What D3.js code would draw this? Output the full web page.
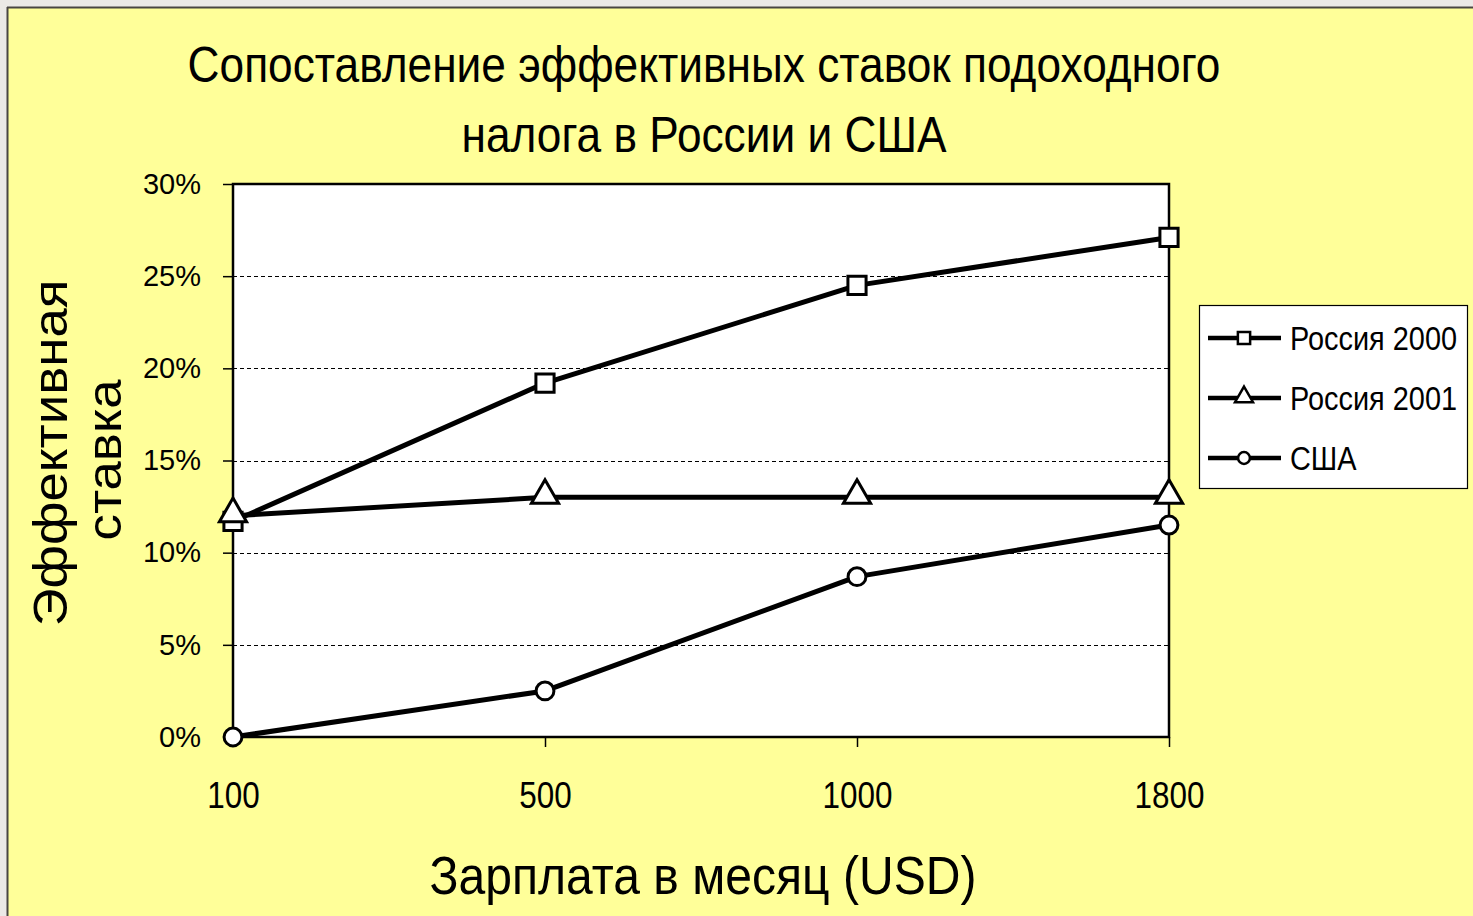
<!DOCTYPE html>
<html>
<head>
<meta charset="utf-8">
<script src="https://cdn.jsdelivr.net/npm/d3@7"></script>
<style>
  html, body { margin: 0; padding: 0; background: #ece9e6; }
  svg { display: block; }
</style>
</head>
<body>
<div id="chart"></div>
<script>
// Chart data
const categories = ["100", "500", "1000", "1800"];
const russia2000 = [11.7, 19.2, 24.5, 27.1];
const russia2001 = [12.0, 13.0, 13.0, 13.0];
const usa = [0.0, 2.5, 8.7, 11.5];
const yTicks = [0, 5, 10, 15, 20, 25, 30];
const seriesNames = ["Россия 2000", "Россия 2001", "США"];

const width = 1473;
const height = 916;

// plot area
const plotLeft = 233;
const plotRight = 1169;
const plotTop = 184;
const plotBottom = 737;

const font = "'Liberation Sans', Arial, sans-serif";

// no narrow font installed, so squeeze the regular one horizontally
function squeeze(sel, factor) {
    sel.each(function () {
        const len = this.getComputedTextLength();
        d3.select(this)
            .attr("textLength", len * factor)
            .attr("lengthAdjust", "spacingAndGlyphs");
    });
}

const svg = d3.select("#chart")
    .append("svg")
    .attr("width", width)
    .attr("height", height);

// outer frame
svg.append("rect")
    .attr("x", 0).attr("y", 0)
    .attr("width", width).attr("height", height)
    .attr("fill", "#ece9e6");
svg.append("rect")
    .attr("x", 8).attr("y", 8)
    .attr("width", width - 8).attr("height", height - 8)
    .attr("fill", "#ffff99");
svg.append("line")
    .attr("x1", 7.5).attr("x2", 7.5).attr("y1", 7).attr("y2", height)
    .attr("stroke", "#4a4642").attr("stroke-width", 2);
svg.append("line")
    .attr("x1", 7).attr("x2", width).attr("y1", 7.5).attr("y2", 7.5)
    .attr("stroke", "#4a4642").attr("stroke-width", 2);

// title
const title = svg.append("text")
    .attr("text-anchor", "middle")
    .attr("font-family", font)
    .attr("font-size", 50)
    .attr("fill", "#000");
title.append("tspan").attr("x", 704).attr("y", 82)
    .text("Сопоставление эффективных ставок подоходного");
title.append("tspan").attr("x", 704).attr("y", 152)
    .text("налога в России и США");
squeeze(title.selectAll("tspan"), 0.885);

// scales
const x = d3.scalePoint()
    .domain(categories)
    .range([plotLeft, plotRight])
    .padding(0);

const y = d3.scaleLinear()
    .domain([0, 30])
    .range([plotBottom, plotTop]);

// plot background
svg.append("rect")
    .attr("x", plotLeft).attr("y", plotTop)
    .attr("width", plotRight - plotLeft).attr("height", plotBottom - plotTop)
    .attr("fill", "#ffffff");

// dashed grid
svg.append("g")
    .selectAll("line")
    .data(yTicks.filter(t => t > 0 && t < 30))
    .join("line")
    .attr("x1", plotLeft).attr("x2", plotRight)
    .attr("y1", d => Math.round(y(d)) + 0.5).attr("y2", d => Math.round(y(d)) + 0.5)
    .attr("stroke", "#000")
    .attr("stroke-width", 1)
    .attr("stroke-dasharray", "4,3");

// plot border
svg.append("rect")
    .attr("x", plotLeft).attr("y", plotTop)
    .attr("width", plotRight - plotLeft).attr("height", plotBottom - plotTop)
    .attr("fill", "none")
    .attr("stroke", "#000")
    .attr("stroke-width", 2.5);

// y axis
const yAxis = svg.append("g")
    .attr("transform", `translate(${plotLeft},0)`)
    .call(d3.axisLeft(y).tickValues(yTicks).tickSize(10).tickPadding(22).tickFormat(d => d + "%"));
yAxis.select(".domain").remove();
yAxis.selectAll(".tick line").attr("stroke", "#000").attr("stroke-width", 1.5);
yAxis.selectAll(".tick text")
    .attr("font-family", font)
    .attr("font-size", 29)
    .attr("fill", "#000");

// x axis
const xAxis = svg.append("g")
    .attr("transform", `translate(0,${plotBottom})`)
    .call(d3.axisBottom(x).tickSize(10).tickPadding(35));
xAxis.select(".domain").remove();
xAxis.selectAll(".tick line").attr("stroke", "#000").attr("stroke-width", 1.5);
xAxis.selectAll(".tick text")
    .attr("font-family", font)
    .attr("font-size", 37)
    .attr("fill", "#000");
squeeze(xAxis.selectAll(".tick text"), 0.85);

// axis titles
const xTitle = svg.append("text")
    .attr("x", 703).attr("y", 894)
    .attr("text-anchor", "middle")
    .attr("font-family", font)
    .attr("font-size", 54)
    .attr("fill", "#000")
    .text("Зарплата в месяц (USD)");
squeeze(xTitle, 0.89);

const yTitle = svg.append("text")
    .attr("transform", "rotate(-90)")
    .attr("text-anchor", "middle")
    .attr("font-family", font)
    .attr("font-size", 48)
    .attr("fill", "#000");
yTitle.append("tspan").attr("x", -453).attr("y", 67).text("Эффективная");
yTitle.append("tspan").attr("x", -460).attr("y", 121).text("ставка");
squeeze(yTitle.selectAll("tspan"), 1.1);

// markers
const markerSymbol = [d3.symbolSquare, d3.symbolTriangle, d3.symbolCircle];
const markerArea = [330, 320, 250];
const allSeries = [russia2000, russia2001, usa];

const line = d3.line()
    .x((d, i) => x(categories[i]))
    .y(d => y(d));

allSeries.forEach((values, s) => {
    svg.append("path")
        .datum(values)
        .attr("fill", "none")
        .attr("stroke", "#000")
        .attr("stroke-width", 5)
        .attr("stroke-linejoin", "round")
        .attr("d", line);
});

allSeries.forEach((values, s) => {
    svg.append("g")
        .selectAll("path")
        .data(values)
        .join("path")
        .attr("transform", (d, i) => `translate(${x(categories[i])},${y(d) + (s === 1 ? -2 : 0)})`)
        .attr("d", d3.symbol(markerSymbol[s], markerArea[s]))
        .attr("fill", "#fff")
        .attr("stroke", "#000")
        .attr("stroke-width", 3);
});

// legend
const legend = svg.append("g");
legend.append("rect")
    .attr("x", 1199.5).attr("y", 305.5)
    .attr("width", 268).attr("height", 183)
    .attr("fill", "#fff")
    .attr("stroke", "#000")
    .attr("stroke-width", 1.2);

const legendY = [338, 398, 458];
const legendArea = [150, 140, 110];
seriesNames.forEach((name, s) => {
    const row = legend.append("g").attr("transform", `translate(0,${legendY[s]})`);
    row.append("line")
        .attr("x1", 1208).attr("x2", 1281)
        .attr("y1", 0).attr("y2", 0)
        .attr("stroke", "#000")
        .attr("stroke-width", 4.5);
    row.append("path")
        .attr("transform", `translate(1244,${s === 1 ? -1 : 0})`)
        .attr("d", d3.symbol(markerSymbol[s], legendArea[s]))
        .attr("fill", "#fff")
        .attr("stroke", "#000")
        .attr("stroke-width", 2.5);
    // squeezed with a transform so the text box stays inside the legend
    row.append("g")
        .attr("transform", "translate(1290,12) scale(0.85,1)")
        .append("text")
        .attr("x", 0).attr("y", 0)
        .attr("font-family", font)
        .attr("font-size", 34)
        .attr("fill", "#000")
        .text(name);
});
</script>
</body>
</html>
